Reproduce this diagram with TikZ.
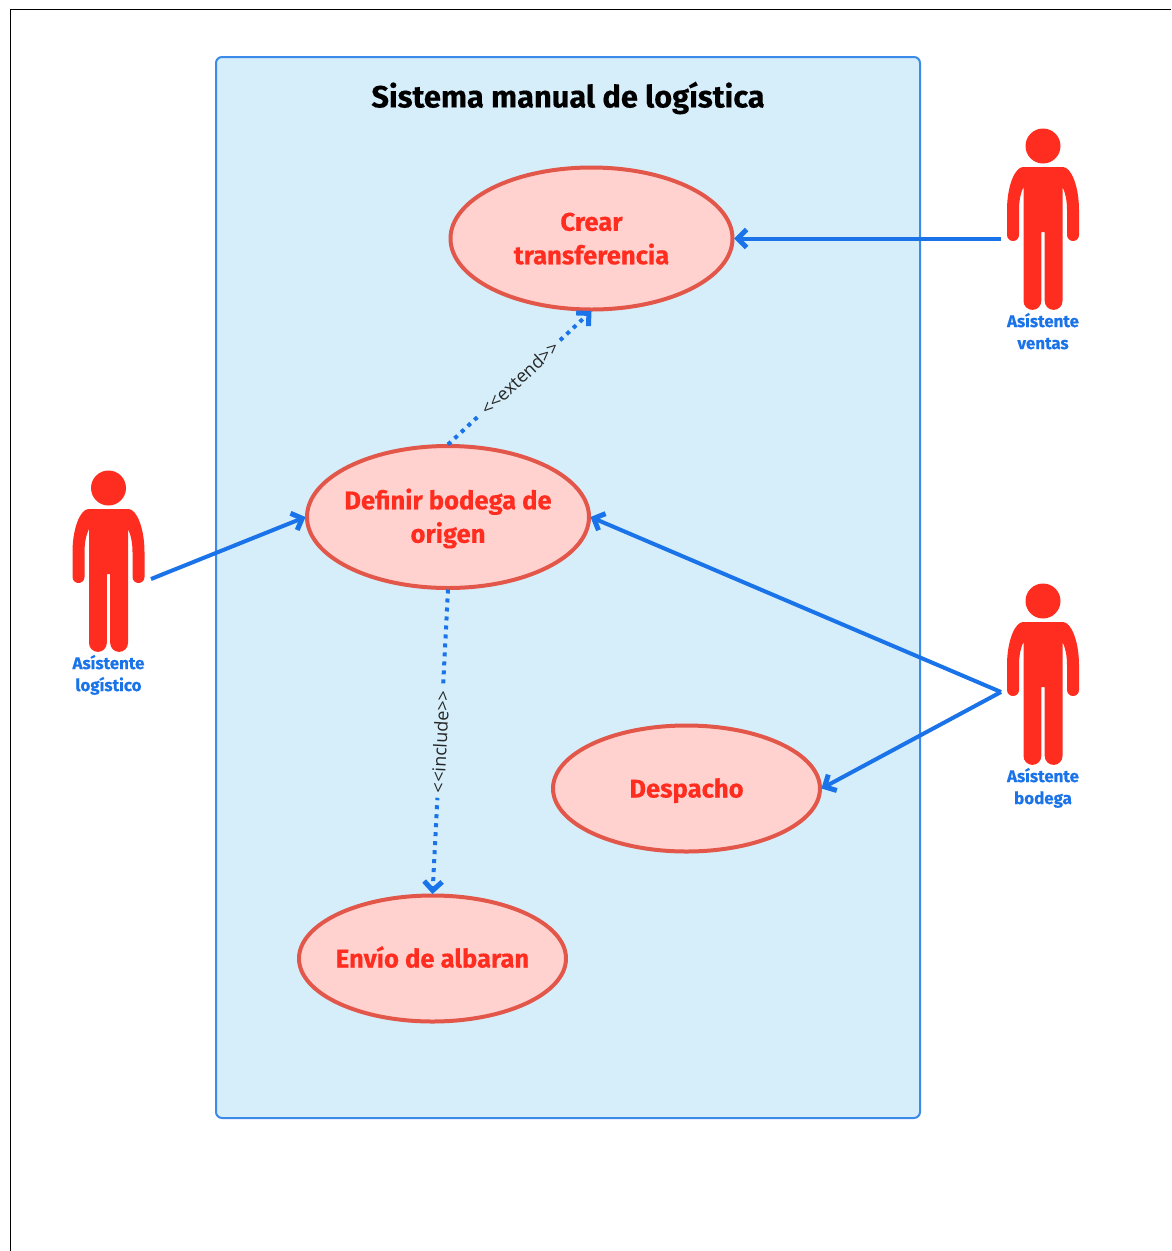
\documentclass[tikz,border=0pt]{standalone}
\usepackage{fontspec}
\setmainfont{Fira Sans}[BoldFeatures={FakeBold=0.35}]
\newfontfamily\labelfont{Open Sans}
\usetikzlibrary{shapes.geometric,arrows.meta}
\definecolor{boxfill}{HTML}{D5EEFA}
\definecolor{boxline}{HTML}{3D8BE8}
\definecolor{usefill}{HTML}{FFD2CF}
\definecolor{useline}{HTML}{E2574A}
\definecolor{actred}{HTML}{FF2D20}
\definecolor{linkblue}{HTML}{1A73E8}
\newcommand{\topstrut}{\rule{0pt}{24pt}}
\newcommand{\botstrut}{\rule[-6pt]{0pt}{6pt}}
\newcommand{\lbltop}{\rule{0pt}{14pt}}
\newcommand{\lblbot}{\rule[-4pt]{0pt}{4pt}}
\tikzset{
  x=1pt,y=-1pt,
  sysbox/.style={draw=boxline,fill=boxfill,line width=2pt,rounded corners=6pt},
  frameline/.style={draw=black,line width=1.6pt},
  usecase/.style={ellipse,draw=useline,fill=usefill,line width=4pt,text=actred,
    font=\fontsize{25.6}{33.5}\selectfont\bfseries,align=center,inner sep=-25pt,outer sep=1.5pt},
  bigcase/.style={usecase,minimum width=285pt,minimum height=145pt},
  smallcase/.style={usecase,minimum width=270pt,minimum height=129pt},
  actlabel/.style={text=linkblue,font=\fontsize{16.9}{22}\selectfont\bfseries,align=center,inner sep=0pt},
  title/.style={font=\fontsize{30.8}{36}\selectfont\bfseries,text=black,inner sep=0pt},
  assoc/.style={draw=linkblue,line width=4pt,-{Straight Barb[length=9pt,width=18pt,line width=5pt]}},
  dep/.style={assoc,dash pattern=on 4pt off 5pt},
  deplabel/.style={fill=boxfill,text=black!85,font=\labelfont\fontsize{18}{20}\selectfont,inner xsep=5pt,inner ysep=2pt},
  actor/.pic={
    \fill[actred] (0,0) circle[radius=17.5];
    \fill[actred]
      (-20,21) -- (20,21)
      .. controls (28,21) and (36,40) .. (36,64)
      -- (36,89) arc[start angle=0,end angle=-180,radius=6pt]
      -- (24,64) .. controls (24,54) and (22,46) .. (19.5,41)
      -- (19.5,155) arc[start angle=0,end angle=-180,radius=8.9pt]
      -- (1.7,86) -- (-1.7,86)
      -- (-1.7,155) arc[start angle=0,end angle=-180,radius=8.9pt]
      -- (-19.5,41) .. controls (-22,46) and (-24,54) .. (-24,64)
      -- (-24,89) arc[start angle=0,end angle=-180,radius=6pt]
      -- (-36,64) .. controls (-36,40) and (-28,21) .. (-20,21) -- cycle;
  }
}
\begin{document}
\begin{tikzpicture}
\useasboundingbox (0,0) rectangle (1171,1251);
\draw[frameline] (1171,9.5) -- (10.5,9.5) -- (10.5,1251);
\path[sysbox] (216,57) rectangle (920,1118);
\node[title] (ttl) at (568,98) {Sistema manual de logística};

\node[bigcase,minimum width=282pt,minimum height=142pt] (crear) at (591.5,238.5) {\topstrut Crear\\transferencia\botstrut};
\node[bigcase,minimum width=282pt,minimum height=142pt] (definir) at (448,517) {\topstrut Definir bodega de\\origen\botstrut};
\node[smallcase,minimum width=267pt,minimum height=126pt] (despacho) at (686.5,788.5) {\topstrut Despacho\botstrut};
\node[smallcase,minimum width=267pt,minimum height=126pt] (envio) at (432.5,958.5) {\topstrut Envío de albaran\botstrut};

\pic at (1043,146) {actor};
\pic at (1043,601) {actor};
\pic at (108.5,488) {actor};

\node[actlabel] (lblventas) at (1043,333) {\lbltop Asístente\\ventas\lblbot};
\node[actlabel] (lblbodega) at (1043,788) {\lbltop Asístente\\bodega\lblbot};
\node[actlabel] (lbllog) at (108.5,675) {\lbltop Asístente\\logístico\lblbot};

\coordinate (ventasend) at (1001,238.5);
\coordinate (bodegaend) at (1001,692);
\coordinate (logend) at (151,579);

\draw[assoc] (ventasend) -- (crear.east);
\draw[assoc] (logend) -- (definir.west);
\draw[assoc] (bodegaend) -- (definir.east);
\draw[assoc] (bodegaend) -- (despacho.east);
\draw[dep] (definir.north) -- node[deplabel,sloped,pos=0.5] (lblext) {<{}<extend>{}>} (crear.south);
\draw[dep] (definir.south) -- node[deplabel,pos=0.5,rotate=87] (lblinc) {<{}<include>{}>} (envio.north);
\end{tikzpicture}
\end{document}
